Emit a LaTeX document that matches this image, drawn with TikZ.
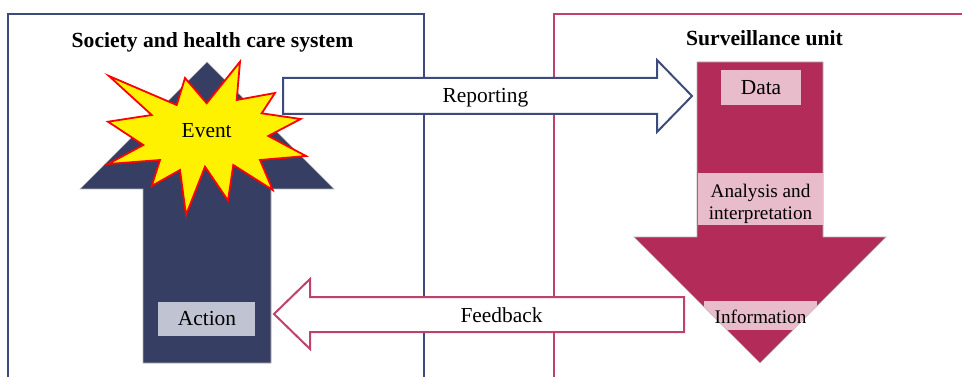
\documentclass[tikz,border=0pt]{standalone}
\usepackage{fontspec}
\setmainfont{Liberation Serif}
\definecolor{navyfill}{HTML}{363F63}
\definecolor{navyline}{HTML}{3D4A7B}
\definecolor{crimfill}{HTML}{B22B59}
\definecolor{crimline}{HTML}{C0416B}
\definecolor{pinkbox}{HTML}{E8BCCB}
\definecolor{actbox}{HTML}{C0C3D2}
\tikzset{
  lbl/.style={font=\fontsize{21.4}{22}\selectfont, inner sep=0pt, anchor=base},
  smlbl/.style={font=\fontsize{19.2}{22}\selectfont, inner sep=0pt, anchor=base},
  ttl/.style={font=\fontsize{21.6}{22}\selectfont\bfseries, inner sep=0pt, anchor=base},
  bigarrow/.style={draw=gray!60, line width=0.6pt},
  flowarrow/.style={fill=white, line width=2pt, line join=miter},
  frameline/.style={line width=2pt},
}
\begin{document}
\begin{tikzpicture}[x=1pt,y=-1pt]
\useasboundingbox (0,0) rectangle (962,377);
% frames
\draw[frameline, navyline] (8,380) -- (8,14) -- (424,14) -- (424,380);
\draw[frameline, crimline] (554,380) -- (554,14) -- (965,14);
\node[ttl] (t1) at (212.5,48) {Society and health care system};
\node[ttl] (t2) at (764.5,46) {Surveillance unit};
% up arrow
\coordinate (upTip) at (207,62);
\coordinate (upBase) at (207,363);
\filldraw[bigarrow, fill=navyfill] (143,363) -- (143,189) -- (80,189) -- (upTip) -- (334,189) -- (271,189) -- (271,363) -- cycle;
% event star
\filldraw[fill=yellow, draw=red, line width=1.8pt, line join=miter]
 (240,61.7) -- (236.7,100) -- (275,93) -- (261.7,113.3) -- (300.7,119) -- (268.3,136)
 -- (306,156) -- (260,160) -- (272.7,190) -- (233.3,165) -- (228,200.5) -- (205,166.7)
 -- (186,215) -- (180,170) -- (151.7,186) -- (160,160) -- (108,164) -- (143.3,145)
 -- (108,121.7) -- (151.7,115) -- (109,76) -- (176.7,105) -- (185,78) -- (206.7,103.3) -- cycle;
\node[lbl] (event) at (206.7,138) {Event};
% down arrow
\coordinate (dnTip) at (760,363);
\filldraw[bigarrow, fill=crimfill] (697,62) -- (823,62) -- (823,237) -- (886,237) -- (dnTip) -- (634,237) -- (697,237) -- cycle;
% reporting arrow
\coordinate (repStart) at (283,96);
\coordinate (repEnd) at (692,96);
\filldraw[flowarrow, draw=navyline] (283,78) -- (657,78) -- (657,60) -- (repEnd) -- (657,132) -- (657,114) -- (283,114) -- cycle;
\node[lbl] (reporting) at (485.5,103) {Reporting};
% feedback arrow
\coordinate (fbStart) at (684,314);
\coordinate (fbEnd) at (274,314);
\filldraw[flowarrow, draw=crimline] (684,297) -- (310,297) -- (310,279) -- (fbEnd) -- (310,349) -- (310,332) -- (684,332) -- cycle;
\node[lbl] (feedback) at (501.5,322) {Feedback};
% boxes
\fill[pinkbox] (721,70) rectangle (801,105);
\node[lbl] (data) at (761,95) {Data};
\fill[pinkbox] (698,173) rectangle (823,225);
\node[smlbl] (ana1) at (760.5,197) {Analysis and};
\node[smlbl] (ana2) at (760.5,219) {interpretation};
\begin{scope}
\clip (697,62) -- (823,62) -- (823,237) -- (886,237) -- (760,363) -- (634,237) -- (697,237) -- cycle;
\fill[pinkbox] (704,301) rectangle (817,330);
\end{scope}
\node[smlbl] (info) at (760.5,323) {Information};
\fill[actbox] (158,302) rectangle (255,336);
\node[lbl] (action) at (207,325.7) {Action};
\end{tikzpicture}
\end{document}
